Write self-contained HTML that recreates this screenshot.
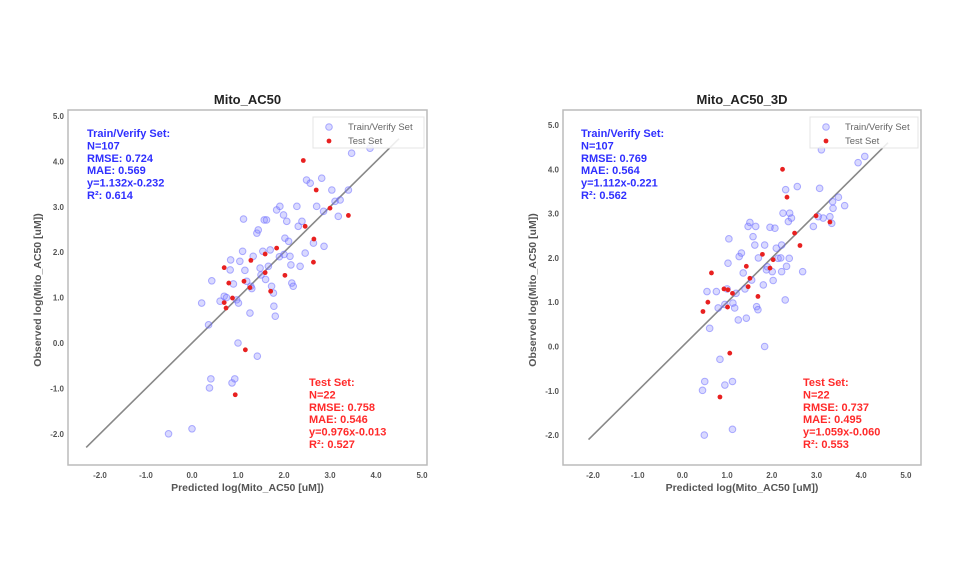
<!DOCTYPE html>
<html><head><meta charset="utf-8">
<style>
html,body{margin:0;padding:0;background:#fff;}
svg{display:block;font-family:"Liberation Sans",Arial,sans-serif;}
.tick{font-size:8px;font-weight:bold;fill:#555;}
.stat{font-size:11px;font-weight:bold;}
</style></head>
<body>
<svg id="root" width="960" height="576" viewBox="0 0 960 576"></svg>
<script>
// ---- Chart 1: Mito_AC50 ----
const c1TrainX=[-0.51,0,0.38,0.41,0.87,0.93,1.0,1.42,0.36,0.21,0.43,0.61,0.70,0.83,0.84,0.97,1.01,1.04,1.10,1.12,1.19,1.26,1.28,1.33,1.41,1.44,1.48,1.54,1.57,1.62,1.66,1.70,1.73,1.77,1.78,1.81,1.84,1.91,1.99,2.02,2.06,2.10,2.13,2.15,2.17,2.20,2.28,2.31,2.35,2.39,2.46,2.49,2.57,2.64,2.71,2.82,2.86,2.87,3.04,3.11,3.18,3.22,3.40,3.47,3.87,1.3,1.5,1.9,2.0,0.75,1.15,1.6,0.9];
const c1TrainY=[-2.0,-1.89,-0.99,-0.79,-0.88,-0.79,0.0,-0.29,0.4,0.88,1.37,0.92,1.03,1.61,1.83,0.95,0.88,1.80,2.02,2.73,1.36,0.66,1.25,1.91,2.42,2.49,1.65,2.02,2.71,2.71,1.69,2.05,1.25,1.10,0.81,0.59,2.93,3.01,2.82,2.31,2.68,2.24,1.91,1.72,1.32,1.25,3.01,2.57,1.69,2.68,1.98,3.59,3.52,2.20,3.01,3.63,2.90,2.13,3.37,3.12,2.79,3.15,3.37,4.18,4.29,1.2,1.5,1.9,1.95,1.0,1.6,1.4,1.3];
const c1TestX=[2.42,2.70,3.00,3.40,2.46,2.65,2.64,1.84,1.59,1.28,1.59,2.02,0.70,0.80,1.13,1.26,1.71,0.88,0.70,0.74,1.16,0.94];
const c1TestY=[4.02,3.37,2.97,2.81,2.57,2.29,1.78,2.09,1.96,1.82,1.55,1.49,1.66,1.32,1.36,1.22,1.14,0.99,0.89,0.77,-0.15,-1.14];
const c1Train=["Train/Verify Set:","N=107","RMSE: 0.724","MAE: 0.569","y=1.132x-0.232","R²: 0.614"];
const c1Test=["Test Set:","N=22","RMSE: 0.758","MAE: 0.546","y=0.976x-0.013","R²: 0.527"];
// ---- Chart 2: Mito_AC50_3D ----
const c2TrainX=[0.49,1.12,0.45,0.50,0.95,1.12,0.84,1.84,0.61,0.55,0.76,0.80,1.02,1.04,1.13,1.17,1.25,1.27,1.32,1.36,1.43,1.47,1.51,1.58,1.62,1.64,1.66,1.69,1.81,1.84,1.88,1.96,2.01,2.03,2.07,2.10,2.14,2.22,2.25,2.22,2.30,2.31,2.33,2.37,2.40,2.44,2.39,2.57,2.69,2.93,3.04,3.07,3.11,3.15,3.30,3.34,3.36,3.37,3.49,3.63,3.93,4.08,1.2,1.4,1.0,1.55,1.9,2.2,0.95,1.7];
const c2TrainY=[-2.0,-1.87,-0.99,-0.79,-0.87,-0.79,-0.29,0.0,0.41,1.24,1.24,0.87,1.88,2.43,0.98,0.87,0.60,2.03,2.11,1.66,0.64,2.71,2.80,2.48,2.29,2.71,0.90,0.83,1.39,2.29,1.73,2.69,1.69,1.49,2.67,2.22,1.99,2.29,3.01,1.69,1.05,3.54,1.81,2.82,3.01,2.90,1.99,3.61,1.69,2.71,2.93,3.57,4.44,2.90,2.93,2.78,3.27,3.12,3.37,3.18,4.15,4.29,1.2,1.3,1.3,1.5,1.8,2.0,0.95,2.0];
const c2TestX=[2.24,2.34,2.99,3.30,2.51,2.63,1.79,2.03,1.96,1.43,1.51,1.47,0.65,0.93,1.02,1.12,1.69,0.57,1.01,0.46,1.06,0.84];
const c2TestY=[4.0,3.37,2.95,2.81,2.56,2.28,2.08,1.96,1.77,1.81,1.54,1.35,1.66,1.30,1.28,1.20,1.13,1.00,0.89,0.79,-0.15,-1.14];
const c2Train=["Train/Verify Set:","N=107","RMSE: 0.769","MAE: 0.564","y=1.112x-0.221","R²: 0.562"];
const c2Test=["Test Set:","N=22","RMSE: 0.737","MAE: 0.495","y=1.059x-0.060","R²: 0.553"];
const tickVals=[-2,-1,0,1,2,3,4,5];
const tickLabels=["-2.0","-1.0","0.0","1.0","2.0","3.0","4.0","5.0"];

const NS="http://www.w3.org/2000/svg";
const root=document.getElementById('root');
function mk(tag,attrs,parent){const e=document.createElementNS(NS,tag);for(const k in attrs)e.setAttribute(k,attrs[k]);(parent||root).appendChild(e);return e;}

function chart(cfg){
  const g=mk('g',{});
  
  
  const sx=v=>cfg.x0+(v+2)*cfg.ux, sy=v=>cfg.y0-(v-5)*cfg.uy;
  const fr=mk('rect',{x:cfg.fl,y:cfg.ft,width:cfg.fr-cfg.fl,height:cfg.fb-cfg.ft,fill:'#fff',stroke:'#bbb','stroke-width':1.5},g);
  
  
  tickVals.forEach((v,i)=>{
    const t=mk('text',{x:sx(v),y:cfg.fb+13,'text-anchor':'middle',class:'tick'},g);t.textContent=tickLabels[i];
    
    
    const u=mk('text',{x:cfg.fl-4,y:sy(v)+3,'text-anchor':'end',class:'tick'},g);u.textContent=tickLabels[i];
    
    
  });
  const ln=mk('line',{x1:sx(cfg.l0),y1:sy(cfg.l0),x2:sx(cfg.l1),y2:sy(cfg.l1),stroke:'#888','stroke-width':1.6},g);
  
  
  cfg.trX.forEach((x,i)=>{
    const c=mk('circle',{cx:sx(x),cy:sy(cfg.trY[i]),r:3.3,fill:'rgba(130,130,255,0.3)',stroke:'rgba(100,100,255,0.5)','stroke-width':1},g);
    
    
  });
  cfg.teX.forEach((x,i)=>{
    const c=mk('circle',{cx:sx(x),cy:sy(cfg.teY[i]),r:2.4,fill:'#e82020'},g);
    
    
  });
  const lg=mk('g',{},g);
  
  
  mk('rect',{x:cfg.lx,y:cfg.ft+7,width:cfg.fr-cfg.lx-3,height:31,fill:'rgba(255,255,255,0.85)',stroke:'#e4e4e4'},lg);
  mk('circle',{cx:cfg.lx+16,cy:cfg.ft+17,r:3.3,fill:'rgba(130,130,255,0.3)',stroke:'rgba(100,100,255,0.5)'},lg);
  mk('circle',{cx:cfg.lx+16,cy:cfg.ft+31,r:2.4,fill:'#e82020'},lg);
  const a=mk('text',{x:cfg.lx+35,y:cfg.ft+20,'font-size':'9.5px',fill:'#666'},lg);a.textContent='Train/Verify Set';
  const b=mk('text',{x:cfg.lx+35,y:cfg.ft+34,'font-size':'9.5px',fill:'#666'},lg);b.textContent='Test Set';
  cfg.trS.forEach((s,i)=>{
    const t=mk('text',{x:cfg.sx1,y:137+i*12.4,class:'stat',fill:'#2f2fff'},g);t.textContent=s;
    
    
  });
  cfg.teS.forEach((s,i)=>{
    const t=mk('text',{x:cfg.sx2,y:386+i*12.4,class:'stat',fill:'#ff2a2a'},g);t.textContent=s;
    
    
  });
  const ti=mk('text',{x:(cfg.fl+cfg.fr)/2,y:cfg.ft-6,'text-anchor':'middle','font-size':'13px','font-weight':'bold',fill:'#222'},g);ti.textContent=cfg.title;
  
  
  const xl=mk('text',{x:(cfg.fl+cfg.fr)/2,y:491,'text-anchor':'middle','font-size':'10.5px','font-weight':'bold',fill:'#555'},g);xl.textContent='Predicted log(Mito_AC50 [uM])';
  
  
  const yl=mk('text',{x:0,y:0,'text-anchor':'middle','font-size':'10.5px','font-weight':'bold',fill:'#555',transform:`translate(${cfg.ylx},290) rotate(-90)`},g);yl.textContent='Observed log(Mito_AC50 [uM])';
  
  
}
chart({name:'chart-mito-ac50',title:'Mito_AC50',fl:68,fr:427,ft:110,fb:465,x0:100,ux:46,y0:116,uy:45.4,l0:-2.3,l1:4.5,trX:c1TrainX,trY:c1TrainY,teX:c1TestX,teY:c1TestY,trS:c1Train,teS:c1Test,sx1:87,sx2:309,lx:313,ylx:41});
chart({name:'chart-mito-ac50-3d',title:'Mito_AC50_3D',fl:563,fr:921,ft:110,fb:465,x0:593,ux:44.7,y0:125,uy:44.3,l0:-2.1,l1:4.6,trX:c2TrainX,trY:c2TrainY,teX:c2TestX,teY:c2TestY,trS:c2Train,teS:c2Test,sx1:581,sx2:803,lx:810,ylx:536});
</script>
</body></html>
